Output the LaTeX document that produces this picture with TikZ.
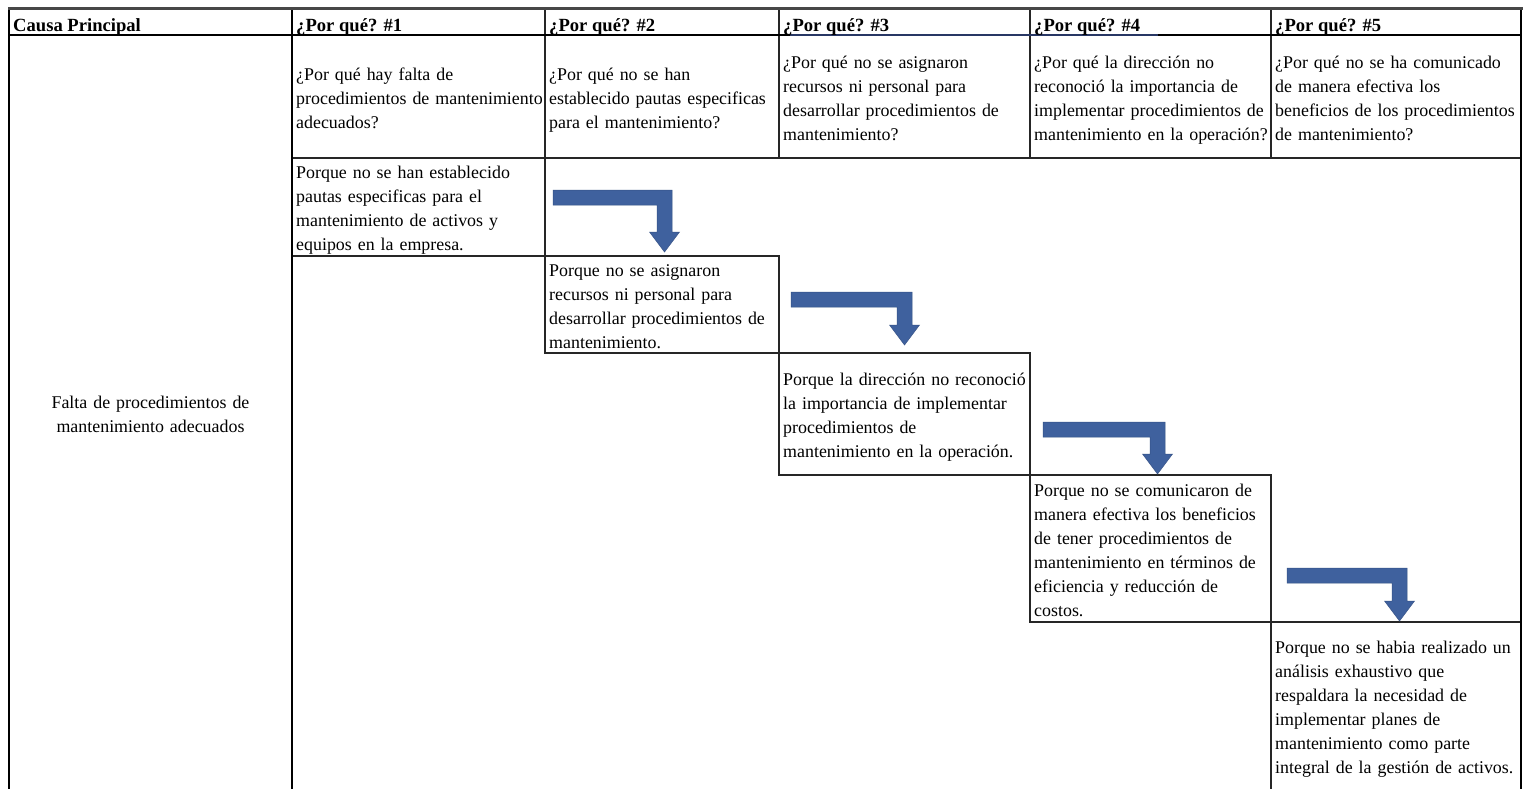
\documentclass[tikz,border=0pt]{standalone}
\usepackage{fontspec}
\setmainfont{Liberation Serif}
\definecolor{arrowblue}{RGB}{63,97,158}
\definecolor{navyline}{RGB}{40,55,100}
\begin{document}
\begin{tikzpicture}[x=1pt,y=-1pt,
  cell/.style={font=\fontsize{17.9}{24}\selectfont, inner sep=0pt, anchor=base west, text width=300pt, align=left},
  causetext/.style={font=\fontsize{17.9}{24}\selectfont, inner sep=0pt, anchor=base, text width=283pt, align=center},
  hdr/.style={font=\fontsize{18.6}{24}\selectfont\bfseries, inner sep=0pt, anchor=base west},
  thinline/.style={line width=1.2pt, draw=black!85},
  midline/.style={line width=1.6pt, draw=black!85},
  heavyline/.style={line width=2.5pt, draw=black},
  arrowshape/.style={fill=arrowblue, draw=arrowblue!85!black, line width=0.5pt}]
\useasboundingbox (0,0) rectangle (1530,788);
\fill[white] (0,0) rectangle (1530,788);
\clip (0,0) rectangle (1530,788);

% answer boxes (staircase)
\draw[thinline] (292,158) rectangle (545,256);
\draw[thinline] (545,256) rectangle (779,353);
\draw[thinline] (779,353) rectangle (1030,475);
\draw[thinline] (1030,475) rectangle (1271,622);
\draw[thinline] (1271,622) rectangle (1521,800);

% question row grid
\foreach \cx in {545,779,1030,1271} {
  \draw[midline] (\cx,10) -- (\cx,158);
}
\draw[midline] (292,158) -- (1521,158);

% top band and header line
\draw[line width=3pt, draw=black!72] (8,8.5) -- (1523,8.5);
\draw[line width=2.2pt, draw=black] (9,35) -- (1521,35);
\draw[line width=2.2pt, draw=navyline] (790,35) -- (1158,35);

% heavy verticals
\draw[heavyline] (9,10) -- (9,790);
\draw[heavyline] (292,10) -- (292,790);
\draw[line width=2.2pt, draw=black] (1521,10) -- (1521,790);

% headers
\node[hdr] (h0) at (13,31) {Causa Principal};
\node[hdr] (h1) at (296,31) {¿Por qué? \#1};
\node[hdr] (h2) at (549,31) {¿Por qué? \#2};
\node[hdr] (h3) at (783,31) {¿Por qué? \#3};
\node[hdr] (h4) at (1034,31) {¿Por qué? \#4};
\node[hdr] (h5) at (1275,31) {¿Por qué? \#5};

% questions
\node[cell] (q1) at (296,80) {¿Por qué hay falta de\\procedimientos de mantenimiento\\adecuados?};
\node[cell] (q2) at (549,80) {¿Por qué no se han\\establecido pautas especificas\\para el mantenimiento?};
\node[cell] (q3) at (783,68) {¿Por qué no se asignaron\\recursos ni personal para\\desarrollar procedimientos de\\mantenimiento?};
\node[cell] (q4) at (1034,68) {¿Por qué la dirección no\\reconoció la importancia de\\implementar procedimientos de\\mantenimiento en la operación?};
\node[cell] (q5) at (1275,68) {¿Por qué no se ha comunicado\\de manera efectiva los\\beneficios de los procedimientos\\de mantenimiento?};

% answers
\node[cell] (a1) at (296,178) {Porque no se han establecido\\pautas especificas para el\\mantenimiento de activos y\\equipos en la empresa.};
\node[cell] (a2) at (549,276) {Porque no se asignaron\\recursos ni personal para\\desarrollar procedimientos de\\mantenimiento.};
\node[cell] (a3) at (783,385.5) {Porque la dirección no reconoció\\la importancia de implementar\\procedimientos de\\mantenimiento en la operación.};
\node[cell] (a4) at (1034,496) {Porque no se comunicaron de\\manera efectiva los beneficios\\de tener procedimientos de\\mantenimiento en términos de\\eficiencia y reducción de\\costos.};
\node[cell] (a5) at (1275,653) {Porque no se habia realizado un\\análisis exhaustivo que\\respaldara la necesidad de\\implementar planes de\\mantenimiento como parte\\integral de la gestión de activos.};

% main cause
\node[causetext] (cause) at (150.5,408) {Falta de procedimientos de\\mantenimiento adecuados};

% bent arrows
\foreach \L/\T/\R/\Y in {553/190/672/252, 791/292/912/345, 1043/422/1165/474, 1287/568/1407/621} {
  \filldraw[arrowshape] (\L,\T) -- (\R,\T) -- (\R,\Y-20) -- (\R+7.5,\Y-20) -- (\R-7.5,\Y)
    -- (\R-22.5,\Y-20) -- (\R-15,\Y-20) -- (\R-15,\T+15) -- (\L,\T+15) -- cycle;
}
\end{tikzpicture}
\end{document}
